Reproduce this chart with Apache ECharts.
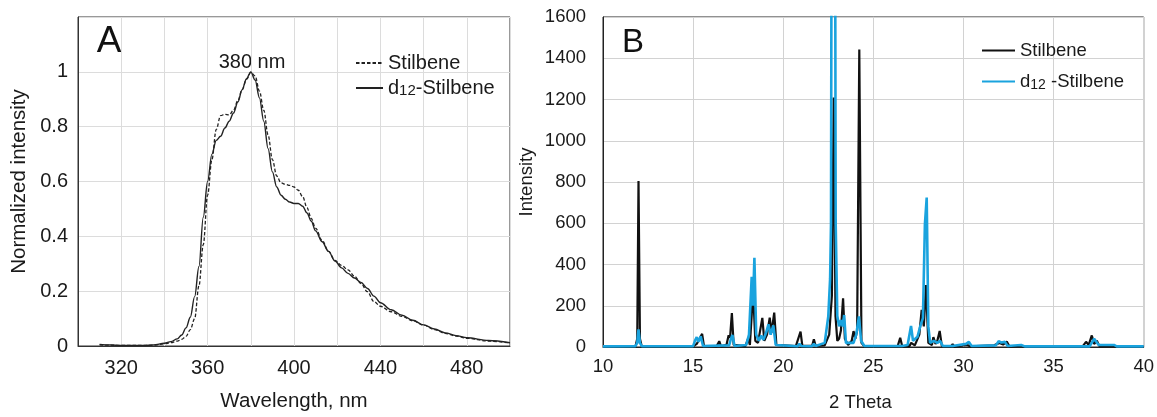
<!DOCTYPE html>
<html><head><meta charset="utf-8">
<script src="https://cdn.jsdelivr.net/npm/echarts@6/dist/echarts.min.js"></script>
<style>html,body{margin:0;padding:0;background:#fff}#c{width:1157px;height:417px}</style>
</head><body><div id="c"></div>
<script>
// ---- Panel A: emission spectra ----
const wavelength = [310,315,320,325,330,335,340,343,346,348,350,352,354,356,358,360,362,364,366,368,370,372,374,376,378,380,382,384,386,388,390,392,394,396,398,400,402,404,406,408,410,413,416,419,422,425,428,431,434,437,440,445,450,455,460,465,470,475,480,490,500];
const stilbeneEm = [0.004,0.003,0.002,0.002,0.002,0.003,0.008,0.012,0.018,0.024,0.035,0.06,0.10,0.22,0.37,0.55,0.68,0.79,0.84,0.845,0.843,0.86,0.895,0.935,0.972,0.998,0.985,0.93,0.86,0.77,0.68,0.62,0.595,0.59,0.586,0.58,0.568,0.545,0.505,0.465,0.43,0.385,0.345,0.312,0.294,0.278,0.255,0.228,0.198,0.162,0.145,0.125,0.108,0.092,0.076,0.06,0.046,0.036,0.028,0.018,0.011];
const d12StilbeneEm = [0.006,0.004,0.002,0.002,0.002,0.004,0.010,0.016,0.026,0.040,0.066,0.105,0.18,0.29,0.47,0.60,0.70,0.75,0.765,0.795,0.82,0.85,0.89,0.935,0.975,1.0,0.97,0.905,0.82,0.72,0.635,0.58,0.55,0.535,0.525,0.52,0.52,0.51,0.485,0.455,0.42,0.38,0.345,0.31,0.285,0.265,0.248,0.232,0.21,0.182,0.158,0.132,0.112,0.094,0.077,0.062,0.048,0.038,0.03,0.02,0.012];
const wavelengthLabels = [320,360,400,440,480];
const intensityLabelsA = [0,0.2,0.4,0.6,0.8,1];

// ---- Panel B: XRD patterns ----
const thetaStilbene = [10.0,11.8,11.9,11.97,12.05,12.15,13.0,15.0,15.2,15.3,15.5,15.6,16.3,16.45,16.55,16.85,16.97,17.05,17.15,17.25,17.9,18.05,18.15,18.33,18.45,18.6,18.84,18.95,19.1,19.25,19.35,19.5,19.62,20.7,20.96,21.06,21.6,21.7,21.8,22.3,22.55,22.7,22.8,22.9,23.0,23.1,23.2,23.32,23.42,23.6,23.8,23.9,24.0,24.1,24.22,24.34,24.5,26.35,26.49,26.6,27.0,27.1,27.3,27.55,27.68,27.8,27.92,28.05,28.25,28.33,28.45,28.55,28.68,28.8,29.3,29.4,29.5,30.2,30.3,30.4,31.7,32.0,32.2,32.4,32.55,33.2,33.4,36.6,36.8,36.95,37.12,37.25,37.4,37.55,38.3,38.45,40.0];
const intensityStilbene = [2,3,40,805,40,3,2,3,15,8,64,5,3,28,3,10,57,45,164,10,4,40,10,270,30,20,141,30,60,142,70,167,10,4,75,5,5,38,5,8,60,250,1210,150,30,40,80,236,40,10,30,77,40,80,1442,20,3,4,45,4,4,20,8,60,180,100,300,20,10,48,15,30,78,5,3,14,2,10,15,3,8,20,12,26,3,6,2,2,25,10,56,15,30,3,5,2,2];
const thetaD12 = [10.0,11.8,11.9,11.97,12.05,12.15,15.0,15.1,15.2,15.3,15.42,15.55,17.0,17.1,17.18,17.3,17.95,18.1,18.25,18.32,18.4,18.5,18.65,18.78,18.9,19.05,19.18,19.3,19.45,19.58,20.8,20.9,21.0,21.6,21.7,21.8,22.3,22.5,22.6,22.65,22.7,22.86,22.91,23.0,23.1,23.2,23.3,23.38,23.48,23.9,24.05,24.2,24.32,24.5,26.4,26.5,26.6,26.9,27.09,27.2,27.45,27.6,27.75,27.86,27.96,28.05,28.15,28.35,28.55,28.7,28.85,29.4,30.15,30.3,30.45,31.8,31.95,32.1,32.3,32.45,33.2,33.4,35.5,37.0,37.1,37.25,37.35,37.5,38.2,38.35,38.5,40.0];
const intensityD12 = [3,4,20,85,20,4,4,30,48,25,52,5,8,40,58,5,10,60,340,200,432,60,30,55,35,70,110,60,105,10,4,15,5,4,15,5,20,150,330,600,3000,3000,600,150,100,130,100,155,20,20,60,148,30,5,5,12,5,10,102,30,50,100,140,595,725,100,20,30,20,30,5,5,15,25,5,8,28,22,25,5,10,3,3,3,10,40,45,10,10,10,3,3];
const thetaLabels = [10,15,20,25,30,35,40];

const FF = '"Liberation Sans", Arial, sans-serif';
const TXT = '#1a1a1a';
const BLUE = '#1aa3de';

const chart = echarts.init(document.getElementById('c'), null, {renderer: 'canvas'});
chart.setOption({
  animation: false,
  backgroundColor: '#ffffff',
  textStyle: {fontFamily: FF, color: TXT},
  grid: [
    {left: 78, top: 17, width: 432, height: 333, show: true, borderColor: '#333', borderWidth: 1, backgroundColor: 'transparent'},
    {left: 603, top: 17, width: 545, height: 334, show: true, borderColor: '#222', borderWidth: 1, backgroundColor: 'transparent'}
  ],
  legend: [
    {
      orient: 'vertical', left: 355, top: 53, padding: 0, itemWidth: 27, itemHeight: 14, itemGap: 5,
      itemStyle: {opacity: 0},
      data: ['Stilbene A', 'd12-Stilbene A'],
      formatter: n => n === 'Stilbene A' ? '{m|Stilbene}' : '{m|d}{s|12}{m|-Stilbene}',
      textStyle: {fontFamily: FF, color: TXT, rich: {
        m: {fontSize: 20, lineHeight: 20, fontFamily: FF, color: TXT},
        s: {fontSize: 15, lineHeight: 17, verticalAlign: 'bottom', fontFamily: FF, color: TXT}
      }}
    },
    {
      orient: 'vertical', left: 981, top: 41, padding: 0, itemWidth: 33, itemHeight: 14, itemGap: 12,
      itemStyle: {opacity: 0},
      data: ['Stilbene B', 'd12-Stilbene B'],
      formatter: n => n === 'Stilbene B' ? '{m|Stilbene}' : '{m|d}{s|12}{m| -Stilbene}',
      textStyle: {fontFamily: FF, color: TXT, rich: {
        m: {fontSize: 18.5, lineHeight: 22, fontFamily: FF, color: TXT},
        s: {fontSize: 14, lineHeight: 14, verticalAlign: 'bottom', fontFamily: FF, color: TXT}
      }}
    }
  ],
  xAxis: [
    {
      type: 'value', gridIndex: 0, min: 300, max: 500, interval: 20,
      axisLine: {show: true, onZero: false, lineStyle: {color: '#333', width: 1}},
      axisTick: {show: false},
      axisLabel: {formatter: v => wavelengthLabels.includes(v) ? String(v) : '', fontSize: 20, color: TXT, margin: 12, fontFamily: FF, showMinLabel: true, showMaxLabel: true},
      splitLine: {show: true, lineStyle: {color: '#dcdcdc', width: 1}},
      name: 'Wavelength, nm', nameLocation: 'middle', nameGap: 45,
      nameTextStyle: {fontSize: 20.5, color: TXT, fontFamily: FF}
    },
    {
      type: 'value', gridIndex: 1, min: 10, max: 40, interval: 5,
      axisLine: {show: true, onZero: false, lineStyle: {color: '#222', width: 1}},
      axisTick: {show: false},
      axisLabel: {formatter: v => thetaLabels.includes(v) ? String(v) : '', fontSize: 18.5, color: TXT, margin: 10, fontFamily: FF, showMinLabel: true, showMaxLabel: true},
      splitLine: {show: true, lineStyle: {color: '#d2d2d2', width: 1}},
      name: '2 Theta', nameLocation: 'middle', nameGap: 46,
      nameTextStyle: {fontSize: 18.5, color: TXT, fontFamily: FF, padding: [0, 26, 0, 0]}
    }
  ],
  yAxis: [
    {
      type: 'value', gridIndex: 0, min: 0, max: 1.2, interval: 0.2,
      axisLine: {show: true, lineStyle: {color: '#333', width: 1}},
      axisTick: {show: false},
      axisLabel: {formatter: v => {const r = Math.round(v * 10) / 10; return intensityLabelsA.includes(r) ? String(r) : '';}, fontSize: 20, color: TXT, margin: 10, fontFamily: FF},
      splitLine: {show: true, lineStyle: {color: '#dcdcdc', width: 1}},
      name: 'Normalized intensity', nameLocation: 'middle', nameGap: 48,
      nameTextStyle: {fontSize: 20.5, color: TXT, fontFamily: FF}
    },
    {
      type: 'value', gridIndex: 1, min: 0, max: 1600, interval: 200,
      axisLine: {show: true, lineStyle: {color: '#222', width: 1}},
      axisTick: {show: false},
      axisLabel: {formatter: v => String(v), fontSize: 18.5, color: TXT, margin: 17, fontFamily: FF},
      splitLine: {show: true, lineStyle: {color: '#d2d2d2', width: 1}},
      name: 'Intensity', nameLocation: 'middle', nameGap: 67,
      nameTextStyle: {fontSize: 18.5, color: TXT, fontFamily: FF}
    }
  ],
  series: [
    {
      name: 'Stilbene A', type: 'line', xAxisIndex: 0, yAxisIndex: 0,
      data: wavelength.map((w, i) => [w, stilbeneEm[i]]),
      symbol: 'none', smooth: 0.35, smoothMonotone: 'x',
      lineStyle: {color: '#222', width: 1.3, type: [3.5, 2]}, itemStyle: {color: '#222'}
    },
    {
      name: 'd12-Stilbene A', type: 'line', xAxisIndex: 0, yAxisIndex: 0,
      data: wavelength.map((w, i) => [w, d12StilbeneEm[i]]),
      symbol: 'none', smooth: 0.35, smoothMonotone: 'x',
      lineStyle: {color: '#222', width: 1.4, type: 'solid'}, itemStyle: {color: '#222'}
    },
    {
      name: 'Stilbene B', type: 'line', xAxisIndex: 1, yAxisIndex: 1,
      data: thetaStilbene.map((t, i) => [t, intensityStilbene[i]]),
      symbol: 'none', clip: true,
      lineStyle: {color: '#111', width: 2.2}, itemStyle: {color: '#111'}
    },
    {
      name: 'd12-Stilbene B', type: 'line', xAxisIndex: 1, yAxisIndex: 1,
      data: thetaD12.map((t, i) => [t, intensityD12[i]]),
      symbol: 'none', clip: true,
      lineStyle: {color: BLUE, width: 2.6}, itemStyle: {color: BLUE}
    }
  ],
  graphic: [
    {type: 'text', x: 109, y: 42, style: {text: 'A', fontSize: 37, fontFamily: FF, fill: '#111', align: 'center', verticalAlign: 'middle'}},
    {type: 'text', x: 252, y: 62, style: {text: '380 nm', fontSize: 20, fontFamily: FF, fill: TXT, align: 'center', verticalAlign: 'middle'}},
    {type: 'text', x: 633, y: 43, style: {text: 'B', fontSize: 33, fontFamily: FF, fill: '#111', align: 'center', verticalAlign: 'middle'}}
  ]
});
</script>
</body></html>
